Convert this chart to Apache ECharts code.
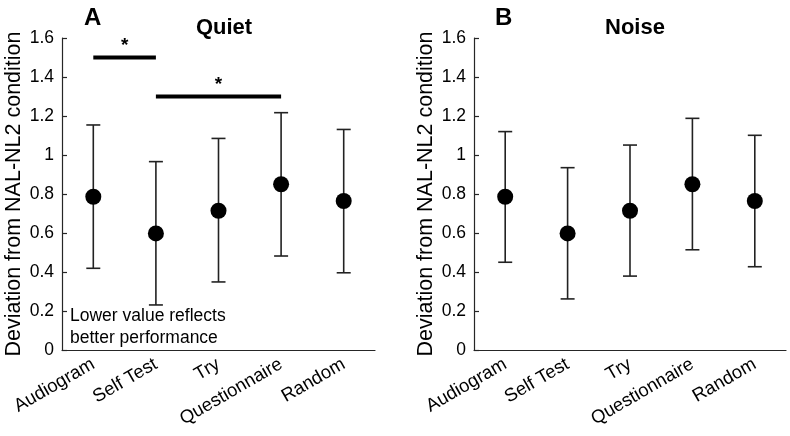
<!DOCTYPE html>
<html><head><meta charset="utf-8">
<script src="https://cdn.jsdelivr.net/npm/echarts@6/dist/echarts.min.js"></script>
<style>html,body{margin:0;padding:0;background:#fff}#c{width:790px;height:436px}</style>
</head><body><div id="c"></div>
<script>
var categories = ['Audiogram','Self Test','Try','Questionnaire','Random'];
var yTicks = [0,0.2,0.4,0.6,0.8,1,1.2,1.4,1.6];
var quietMean = [0.786,0.598,0.714,0.850,0.764];
var quietLow  = [0.419,0.231,0.349,0.482,0.396];
var quietHigh = [1.154,0.966,1.085,1.217,1.131];
var noiseMean = [0.786,0.598,0.714,0.850,0.764];
var noiseLow  = [0.450,0.262,0.379,0.514,0.427];
var noiseHigh = [1.120,0.935,1.051,1.188,1.101];
// significance bars in Quiet panel: [fromCategory, toCategory, y]
var sigBars = [[0,1,1.5],[1,3,1.3]];

var FONT = 'Liberation Sans, Arial, sans-serif';
var chart = echarts.init(document.getElementById('c'), null, {renderer:'canvas'});

function xAx(gi){
  return {type:'category', gridIndex:gi, data:categories, boundaryGap:true,
    axisLine:{lineStyle:{color:'#262626',width:1.2}},
    axisTick:{inside:true, alignWithLabel:true, length:5, lineStyle:{color:'#262626',width:1.2}},
    axisLabel:{rotate:30, color:'#000', fontFamily:FONT, fontSize:18.5, margin:13, interval:0}};
}
function yAx(gi){
  return {type:'value', gridIndex:gi, min:0, max:1.6, interval:0.2,
    name:'Deviation from NAL-NL2 condition', nameLocation:'middle', nameGap:37,
    nameTextStyle:{color:'#000', fontFamily:FONT, fontSize:21.5},
    splitLine:{show:false},
    axisLine:{show:true, lineStyle:{color:'#262626',width:1.2}},
    axisTick:{show:true, inside:true, length:5, lineStyle:{color:'#262626',width:1.2}},
    axisLabel:{color:'#000', fontFamily:FONT, fontSize:17.5, margin:8,
      formatter:function(v){return String(Math.round(v*10)/10);}}};
}
function errData(lo,hi){ return lo.map(function(l,i){return [i,l,hi[i]];}); }
function errSeries(gi,lo,hi){
  return {type:'custom', xAxisIndex:gi, yAxisIndex:gi, data:errData(lo,hi), z:2,
    renderItem:function(params, api){
      var x = api.value(0);
      var p1 = api.coord([x, api.value(1)]);
      var p2 = api.coord([x, api.value(2)]);
      var w = 7;
      var st = {stroke:'#222', lineWidth:1.6};
      return {type:'group', children:[
        {type:'line', shape:{x1:p1[0],y1:p1[1],x2:p2[0],y2:p2[1]}, style:st},
        {type:'line', shape:{x1:p1[0]-w,y1:p1[1],x2:p1[0]+w,y2:p1[1]}, style:st},
        {type:'line', shape:{x1:p2[0]-w,y1:p2[1],x2:p2[0]+w,y2:p2[1]}, style:st}
      ]};
    }};
}
function meanSeries(gi,m){
  return {type:'scatter', xAxisIndex:gi, yAxisIndex:gi, data:m.map(function(v,i){return [i,v];}),
    symbol:'circle', symbolSize:16, itemStyle:{color:'#000', opacity:1}, z:3};
}

var option = {
  animation:false,
  title:[
    {text:'A', left:79, top:1, textStyle:{fontFamily:FONT, fontWeight:'bold', fontSize:24, color:'#000'}},
    {text:'Quiet', left:219, textAlign:'center', top:12, textStyle:{fontFamily:FONT, fontWeight:'bold', fontSize:22, color:'#000'}},
    {text:'B', left:490, top:1, textStyle:{fontFamily:FONT, fontWeight:'bold', fontSize:24, color:'#000'}},
    {text:'Noise', left:630, textAlign:'center', top:12, textStyle:{fontFamily:FONT, fontWeight:'bold', fontSize:22, color:'#000'}}
  ],
  grid:[
    {left:62, right:415, top:38, bottom:86},
    {left:474, right:4, top:38, bottom:86}
  ],
  xAxis:[xAx(0), xAx(1)],
  yAxis:[yAx(0), yAx(1)],
  graphic:[
    {type:'text', left:70, top:305, style:{text:'Lower value reflects\nbetter performance', font:'17.5px '+FONT, fill:'#000', lineHeight:22}}
  ],
  series:[
    errSeries(0,quietLow,quietHigh),
    meanSeries(0,quietMean),
    errSeries(1,noiseLow,noiseHigh),
    meanSeries(1,noiseMean),
    {type:'custom', xAxisIndex:0, yAxisIndex:0, data:sigBars, z:4,
      renderItem:function(params, api){
        var a = api.coord([api.value(0), api.value(2)]);
        var b = api.coord([api.value(1), api.value(2)]);
        return {type:'group', children:[
          {type:'line', shape:{x1:a[0],y1:a[1],x2:b[0],y2:b[1]}, style:{stroke:'#000', lineWidth:4}},
          {type:'text', style:{text:'*', x:(a[0]+b[0])/2, y:a[1]-2, textAlign:'center', textVerticalAlign:'bottom', font:'bold 19px '+FONT, fill:'#000'}}
        ]};
      }}
  ]
};
chart.setOption(option);
</script></body></html>
